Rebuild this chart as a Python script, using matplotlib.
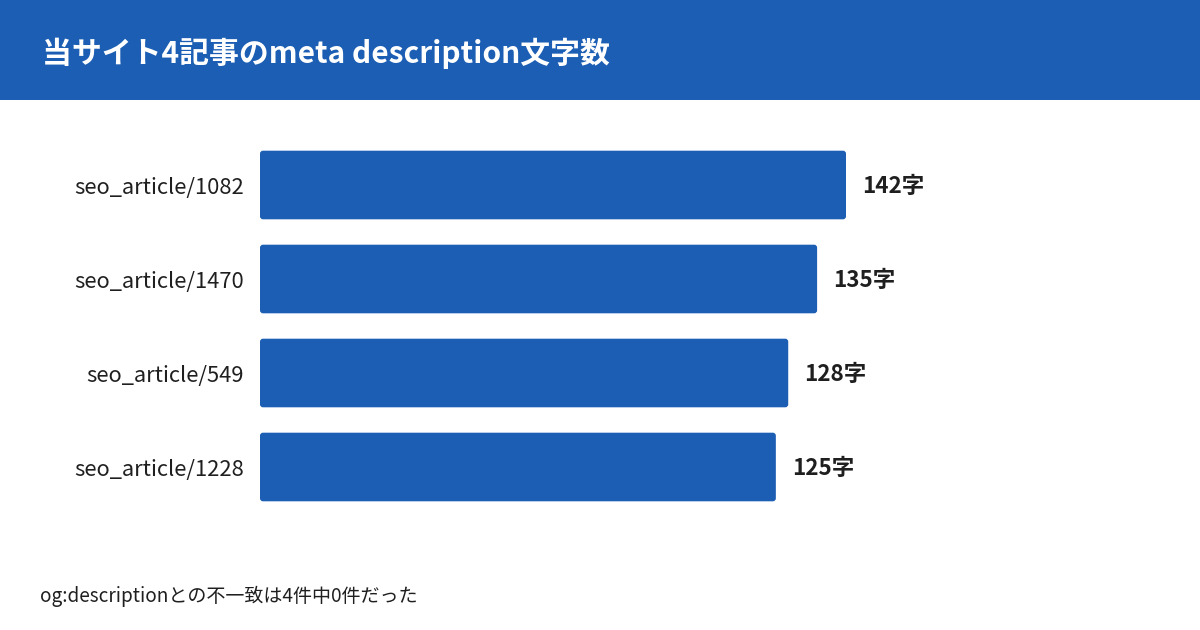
import matplotlib
matplotlib.use('Agg')
import matplotlib.pyplot as plt
from matplotlib.patches import FancyBboxPatch, Rectangle

plt.rcParams['font.family'] = ['Noto Sans CJK JP', 'DejaVu Sans']

# data
articles = ['seo_article/1082', 'seo_article/1470', 'seo_article/549', 'seo_article/1228']
char_counts = [142, 135, 128, 125]
title = '当サイト4記事のmeta description文字数'
note = 'og:descriptionとの不一致は4件中0件だった'

BLUE = '#1B5EB3'
INK = '#1f1f1f'

fig = plt.figure(figsize=(12, 6.3), dpi=100)
fig.patch.set_facecolor('white')

# header band
fig.patches.append(Rectangle((0, 1 - 100 / 630), 1, 100 / 630, transform=fig.transFigure,
                             facecolor=BLUE, edgecolor='none', zorder=0))
fig.text(42 / 1200, 1 - 53 / 630, title, color='white', fontsize=21.5, fontweight='bold',
         va='center', ha='left')

ax = fig.add_axes([260 / 1200, 116 / 630, 900 / 1200, 376 / 630])
px_per_unit = 586 / 142
ax.set_xlim(0, 900 / px_per_unit)
ax.set_ylim(len(articles) - 0.5, -0.5)

bar_h = 0.73
r = 3 / px_per_unit
for i, v in enumerate(char_counts):
    ax.add_patch(FancyBboxPatch((0, i - bar_h / 2), v, bar_h,
                                boxstyle=f'round,pad=0,rounding_size={r}',
                                mutation_aspect=px_per_unit / 94,
                                facecolor=BLUE, edgecolor='none'))
    ax.annotate(f'{v}字', (v, i), xytext=(11.5, -1), textcoords='offset points',
                va='center', ha='left', fontsize=16.2, fontweight='bold', color=INK)

ax.set_yticks(range(len(articles)))
ax.set_yticklabels(articles, fontsize=15.8, color=INK)
ax.tick_params(axis='y', length=0, pad=11.5)
ax.set_xticks([])
for s in ax.spines.values():
    s.set_visible(False)

fig.text(40 / 1200, 1 - 596 / 630, note, fontsize=13.7, color=INK, va='center', ha='left')

fig.savefig('out.png', dpi=100)
